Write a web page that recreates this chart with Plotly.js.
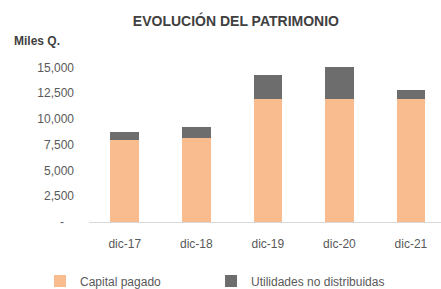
<!DOCTYPE html>
<html>
<head>
<meta charset="utf-8">
<script src="https://cdn.plot.ly/plotly-3.0.1.min.js"></script>
<style>html,body{margin:0;padding:0;background:#fff;}#chart{width:441px;height:289px;}</style>
</head>
<body>
<div id="chart"></div>
<script>
const categories = ['dic-17', 'dic-18', 'dic-19', 'dic-20', 'dic-21'];
const capitalPagado = [7950, 8120, 11950, 11950, 11950];
const utilidadesNoDistribuidas = [820, 1130, 2350, 3100, 820];
const tickValues = [0, 2500, 5000, 7500, 10000, 12500, 15000];
const tickLabels = ['-\u00a0\u00a0\u00a0', '2,500', '5,000', '7,500', '10,000', '12,500', '15,000'];

const font = 'Liberation Sans, Arial, sans-serif';
const traces = [
  {type: 'bar', name: 'Capital pagado', x: categories, y: capitalPagado,
   marker: {color: '#F9BC8E'}, hoverinfo: 'none', legend: 'legend'},
  {type: 'bar', name: 'Utilidades no distribuidas', x: categories, y: utilidadesNoDistribuidas,
   marker: {color: '#6D6D6D'}, hoverinfo: 'none', legend: 'legend2'}
];
const legendFont = {family: font, size: 12, color: '#595959'};
const layout = {
  width: 441, height: 289,
  margin: {l: 89, r: 0, t: 57, b: 67, autoexpand: false},
  paper_bgcolor: '#fff', plot_bgcolor: '#fff',
  barmode: 'stack', bargap: 0.6,
  font: {family: font, size: 12, color: '#595959'},
  title: {text: '<b>EVOLUCIÓN DEL PATRIMONIO</b>', x: 0.535, xanchor: 'center',
          y: 0.927, yanchor: 'middle', font: {family: font, size: 14, color: '#404040'}},
  xaxis: {type: 'category', range: [-0.5, 4.42], showline: true, linecolor: '#D9D9D9', linewidth: 1,
          showgrid: false, zeroline: false, ticks: '', ticklabelstandoff: 11,
          tickfont: {family: font, size: 12, color: '#595959'}, fixedrange: true},
  yaxis: {range: [0, 16000], tickvals: tickValues, ticktext: tickLabels, showgrid: false,
          zeroline: false, showline: false, ticks: '', ticklabelstandoff: 14,
          tickfont: {family: font, size: 12, color: '#595959'}, fixedrange: true},
  showlegend: true,
  legend: {orientation: 'h', xref: 'container', yref: 'container', x: 0.0907, xanchor: 'left',
           y: 0.0277, yanchor: 'middle', font: legendFont, bgcolor: 'rgba(0,0,0,0)'},
  legend2: {orientation: 'h', xref: 'container', yref: 'container', x: 0.4785, xanchor: 'left',
           y: 0.0277, yanchor: 'middle', font: legendFont, bgcolor: 'rgba(0,0,0,0)'},
  annotations: [{text: '<b>Miles Q.</b>', xref: 'paper', yref: 'paper', x: -0.219, xanchor: 'left',
                 y: 1.094, yanchor: 'middle', showarrow: false,
                 font: {family: font, size: 12, color: '#404040'}}]
};
Plotly.newPlot('chart', traces, layout, {displayModeBar: false, staticPlot: true});
</script>
</body>
</html>
